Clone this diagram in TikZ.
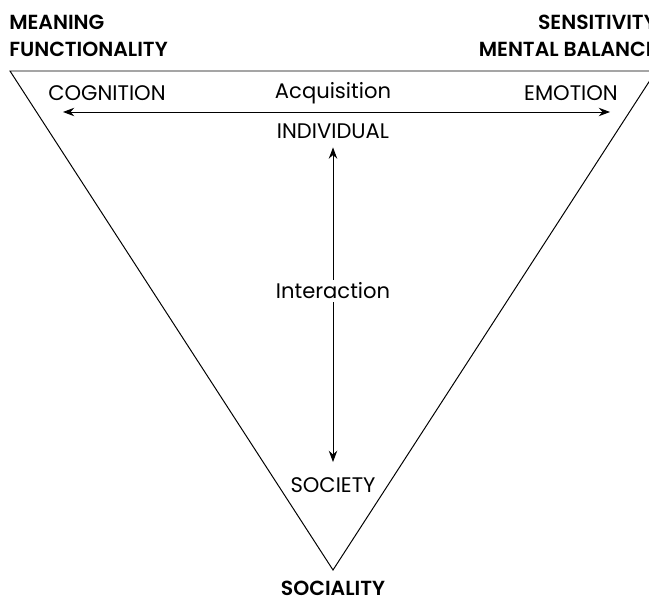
\documentclass[tikz,border=0pt]{standalone}
\usepackage{fontspec}
\setmainfont{Poppins}[BoldFont=* SemiBold]
\usepackage{tikz}
\usetikzlibrary{arrows.meta,positioning}

\begin{document}
\begin{tikzpicture}[
  x=0.025cm,y=-0.025cm,
  edge/.style={line width=0.7pt},
  arr/.style={line width=0.7pt,{Stealth[length=8pt,width=6pt]}-{Stealth[length=8pt,width=6pt]}},
  pole/.style={font=\fontsize{14.5}{17}\selectfont\bfseries,inner sep=0pt,align=left},
  term/.style={font=\fontsize{15}{17}\selectfont,inner sep=0pt},
  verb/.style={font=\fontsize{15}{17}\selectfont,inner sep=2pt,fill=white},
]
\useasboundingbox (0,0) rectangle (649,596);
% the triangle, right corner runs past the page edge
\coordinate (tl) at (10,71);
\coordinate (tr) at (656,71);
\coordinate (bt) at (333,570);
\draw[edge,line join=miter] (tl) -- (tr) -- (bt) -- cycle;

% corner labels
\node[pole,anchor=west] (mean) at (9,22) {MEANING};
\node[pole,anchor=west] (func) at (9,49) {FUNCTIONALITY};
\node[pole,anchor=east] (sens) at (657,22) {SENSITIVITY};
\node[pole,anchor=east] (ment) at (657,49) {MENTAL BALANCE};
\node[pole] (soci) at (333,588) {SOCIALITY};

% horizontal axis
\node[term] (cog) at (107,93) {COGNITION};
\node[term] (emo) at (571,93) {EMOTION};
\node[term] (acq) at (333,93) {Acquisition};
\coordinate (cogend) at (63,112);
\coordinate (emoend) at (610,112);
\draw[arr] (cogend) -- (emoend);

% vertical axis
\node[term] (ind) at (333,131) {INDIVIDUAL};
\node[term] (soc) at (333,485) {SOCIETY};
\draw[arr,shorten <=6.2pt,shorten >=10.8pt] (ind.south) -- (soc.north);
\node[verb] (int) at (333,291) {Interaction};
\end{tikzpicture}
\end{document}
